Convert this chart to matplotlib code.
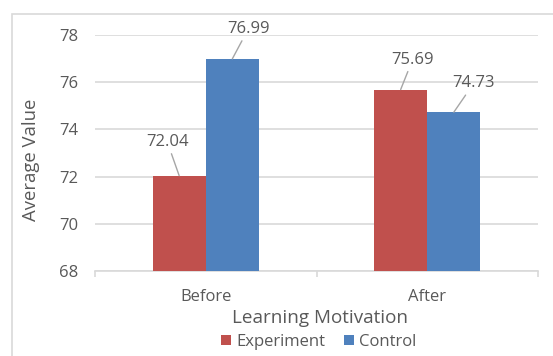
import numpy as np
import matplotlib.pyplot as plt
from matplotlib.patches import Rectangle

# data
categories = ["Before", "After"]
experiment = [72.04, 75.69]
control = [76.99, 74.73]
series_names = ["Experiment", "Control"]
colors = ["#C0504D", "#4F81BD"]
yticks = [68, 70, 72, 74, 76, 78]

plt.rcParams['font.family'] = ['Open Sans', 'DejaVu Sans']
gray_text = "#595959"
grid_gray = "#D9D9D9"

W, H = 553, 356
fig = plt.figure(figsize=(W / 100, H / 100), dpi=100)
ax = fig.add_axes([95 / W, 1 - 271 / H, (538 - 95) / W, (271 - 35) / H])

# chart border (cropped Excel chart area)
fig.patches.append(Rectangle((12 / W, -0.1), 1.0, (H - 14) / H + 0.1,
                             transform=fig.transFigure, fill=False,
                             edgecolor=grid_gray, linewidth=1.2))

x = np.arange(len(categories))
w = 0.24
bars_e = ax.bar(x - w / 2, experiment, w, color=colors[0], label=series_names[0], zorder=3)
bars_c = ax.bar(x + w / 2, control, w, color=colors[1], label=series_names[1], zorder=3)

ax.set_xlim(-0.5, 1.5)
ax.set_ylim(68, 78)
ax.set_yticks(yticks)
ax.set_xticks(x)
ax.set_xticklabels(categories)
ax.set_xticks([-0.5, 0.5, 1.5], minor=True)
ax.yaxis.grid(True, color=grid_gray, linewidth=1.2, zorder=0)
ax.set_axisbelow(True)

for s in ["top", "right", "left"]:
    ax.spines[s].set_visible(False)
ax.spines["bottom"].set_color(grid_gray)
ax.spines["bottom"].set_linewidth(1.2)

ax.tick_params(axis="y", length=0, pad=12, labelsize=12, labelcolor=gray_text)
ax.tick_params(axis="x", which="major", length=0, pad=13, labelsize=12, labelcolor=gray_text)
ax.tick_params(axis="x", which="minor", length=4, width=1.2, color=grid_gray)

ax.set_ylabel("Average Value", fontsize=13.3, color=gray_text)
ax.yaxis.set_label_coords(-0.125, 0.47)
ax.set_xlabel("Learning Motivation", fontsize=13.6, color=gray_text)
ax.xaxis.set_label_coords(0.508, -0.199)
ax.xaxis.label.set_va("center")

# data labels with leader lines (offsets in pixels)
offsets = {0: [(-12, 34), (16, 30)], 1: [(12, 30), (20, 29)]}
for i in range(len(categories)):
    for j, (val, xpos) in enumerate([(experiment[i], x[i] - w / 2), (control[i], x[i] + w / 2)]):
        dx, dy = offsets[i][j]
        ax.annotate(f"{val:.2f}", xy=(xpos, val), xytext=(dx, dy),
                    textcoords="offset pixels", ha="center", va="center",
                    fontsize=12, color=gray_text,
                    arrowprops=dict(arrowstyle="-", color="#A6A6A6", lw=1,
                                    shrinkA=1, shrinkB=0))

fig.legend(handles=[bars_e, bars_c], loc="center",
           bbox_to_anchor=(319 / W, 1 - 342 / H), ncol=2, frameon=False,
           fontsize=12, labelcolor=gray_text, handlelength=0.6,
           handleheight=0.6, handletextpad=0.3, columnspacing=1.15)

fig.savefig("out.png", dpi=100)
